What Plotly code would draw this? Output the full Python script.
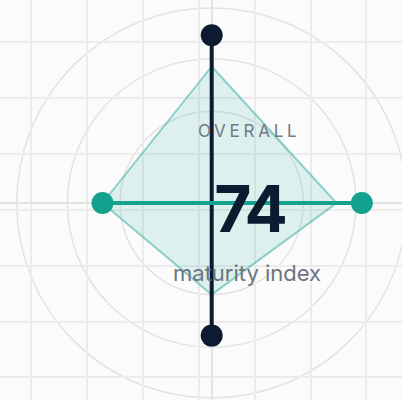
import numpy as np
import plotly.graph_objects as go

# ---- data (index units, 0-100 scale) ----
axis_angles = [90, 0, 270, 180]            # top, right, bottom, left (degrees)
vertical_pair = [86, 68]                   # dark axis end points: top, bottom
horizontal_pair = [56, 77]                 # teal axis end points: left, right
diamond_values = [70, 64, 47, 56]          # top, right, bottom, left
ring_values = [47, 74, 100]
overall_label = "OVERALL"
overall_value = "74"
overall_caption = "maturity index"

# ---- style ----
NAVY = "#0c1b2f"
TEAL = "#14a28e"
BG = "#fbfbfb"
GRID = "#ececec"
RING = "#e3e3e3"
PX_PER_UNIT = 1.95
W, H = 402, 400
CX, CY = 211.7, 203.0          # centre in pixels (from left / top)
GRID_PX = 55.9
GRID_X0, GRID_Y0 = 31.0, 42.0

def polar_xy(r, deg):
    a = np.deg2rad(np.asarray(deg, dtype=float))
    r = np.asarray(r, dtype=float)
    return r * np.cos(a), r * np.sin(a)

fig = go.Figure()

# diamond (current profile)
dx, dy = polar_xy(diamond_values + diamond_values[:1], axis_angles + axis_angles[:1])
fig.add_trace(go.Scatter(
    x=np.round(dx, 6), y=np.round(dy, 6), mode="lines", fill="toself",
    fillcolor="rgba(20,162,142,0.12)",
    line=dict(color="rgba(20,162,142,0.45)", width=2),
    hoverinfo="skip", showlegend=False))

# vertical dark axis
vx, vy = polar_xy(vertical_pair, [axis_angles[0], axis_angles[2]])
fig.add_trace(go.Scatter(
    x=np.round(vx, 6), y=np.round(vy, 6), mode="lines+markers",
    line=dict(color=NAVY, width=4), marker=dict(color=NAVY, size=22),
    hoverinfo="skip", showlegend=False))

# horizontal teal axis
hx, hy = polar_xy(horizontal_pair, [axis_angles[3], axis_angles[1]])
fig.add_trace(go.Scatter(
    x=np.round(hx, 6), y=np.round(hy, 6), mode="lines+markers",
    line=dict(color=TEAL, width=4), marker=dict(color=TEAL, size=22),
    hoverinfo="skip", showlegend=False))

# rings
for rv in ring_values:
    fig.add_shape(type="circle", xref="x", yref="y", x0=-rv, x1=rv, y0=-rv, y1=rv,
                  line=dict(color=RING, width=1.5), layer="below")

u = PX_PER_UNIT
x_range = [-CX / u, (W - CX) / u]
y_range = [-(H - CY) / u, CY / u]

fig.update_xaxes(range=x_range, showgrid=True, gridcolor=GRID, gridwidth=2,
                 tick0=(GRID_X0 - CX) / u, dtick=GRID_PX / u,
                 zeroline=True, zerolinecolor=RING, zerolinewidth=1.5,
                 showticklabels=False, ticks="", showline=False, fixedrange=True)
fig.update_yaxes(range=y_range, showgrid=True, gridcolor=GRID, gridwidth=2,
                 tick0=(CY - GRID_Y0) / u, dtick=GRID_PX / u,
                 zeroline=True, zerolinecolor=RING, zerolinewidth=1.5,
                 showticklabels=False, ticks="", showline=False, fixedrange=True)

fig.add_annotation(text=overall_label, xref="paper", yref="paper",
                   x=248.5 / W, y=1 - 131 / H, xanchor="center", yanchor="middle",
                   showarrow=False,
                   font=dict(family="Inter", size=17, color="#6f7a86"))
fig.add_annotation(text=overall_value, xref="paper", yref="paper",
                   x=249 / W, y=1 - 208 / H, xanchor="center", yanchor="middle",
                   showarrow=False,
                   font=dict(family="Inter", size=64, color=NAVY, weight=700))
fig.add_annotation(text=overall_caption, xref="paper", yref="paper",
                   x=247.5 / W, y=1 - 273 / H, xanchor="center", yanchor="middle",
                   showarrow=False,
                   font=dict(family="Inter", size=22, color="#6b7480"))

fig.update_layout(width=W, height=H, margin=dict(l=0, r=0, t=0, b=0),
                  paper_bgcolor=BG, plot_bgcolor=BG, showlegend=False)

post = """
document.body.style.margin = '0';
document.body.style.padding = '0';
var gd = document.getElementById('{plot_id}');
gd.querySelectorAll('text.annotation-text').forEach(function (t) {
  if (t.textContent === 'OVERALL') { t.style.letterSpacing = '0.22em'; }
  if (t.textContent === '74') { t.style.letterSpacing = '-0.05em'; }
});
"""
fig.write_html("out.html", config={"displayModeBar": False}, post_script=post)
